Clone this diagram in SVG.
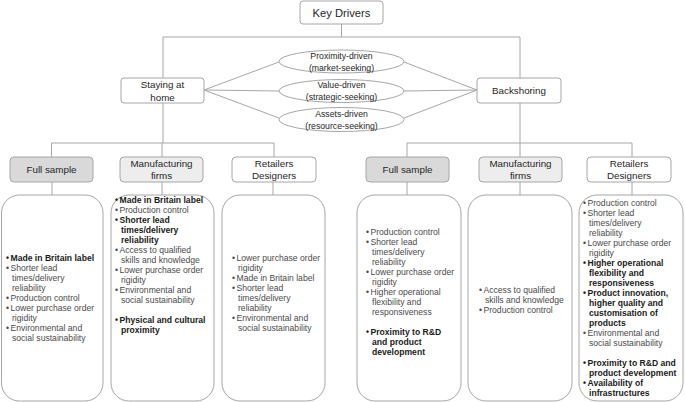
<svg xmlns="http://www.w3.org/2000/svg" width="685" height="402" viewBox="0 0 685 402">
<style>
.bx{fill:#fff;stroke:#a6a6a6;stroke-width:1}
.g1{fill:#d9d9d9}
.g2{fill:#ededed}
.ln{fill:none;stroke:#a6a6a6;stroke-width:1}
text{font-family:"Liberation Sans",Arial,sans-serif}
.h{font-size:9.8px;fill:#262626;text-anchor:middle}
.k{font-size:11.2px;fill:#262626;text-anchor:middle}
.e{font-size:8.7px;fill:#262626;text-anchor:middle}
.t{font-size:8.6px;fill:#4a4a4a}
.b{font-size:8.6px;fill:#1a1a1a;font-weight:bold}
</style>
<rect width="685" height="402" fill="#fff"/>
<g id="connectors">
<path class="ln" d="M341.5,24V37M163,37H520M163,37V78M520,37V78"/>
<path class="ln" d="M204,90L279,62M204,90L279,91M204,90L279,118M477,90L404,62M477,90L404,91M477,90L404,118"/>
<path class="ln" d="M163,103V143M51.5,143H274M51.5,143V157M162,143V157M274,143V157"/>
<path class="ln" d="M520,103V143M407,143H632M407,143V157M520,143V157M632,143V157"/>
<path class="ln" d="M52,182V195M162,182V195M273,182V195M407,182V195M520,182V195M632,182V195"/>
</g>
<g id="key-drivers"><rect class="bx" x="300" y="1" width="83" height="23" rx="3"/><text class="k" x="341.5" y="16.5">Key Drivers</text></g>
<g id="staying"><rect class="bx" x="121" y="78" width="83" height="25" rx="3"/><text class="h" x="162.5" y="88">Staying at</text><text class="h" x="162.5" y="100.5">home</text></g>
<g id="backshoring"><rect class="bx" x="477" y="78" width="84" height="25" rx="3"/><text class="h" x="519" y="94">Backshoring</text></g>
<g id="proximity"><ellipse class="bx" cx="341.5" cy="61.5" rx="62.5" ry="11.5"/><text class="e" x="341.5" y="59">Proximity-driven</text><text class="e" x="341.5" y="71">(market-seeking)</text></g>
<g id="value"><ellipse class="bx" cx="341.5" cy="91" rx="62.5" ry="11.5"/><text class="e" x="341.5" y="88.3">Value-driven</text><text class="e" x="341.5" y="100.3">(strategic-seeking)</text></g>
<g id="assets"><ellipse class="bx" cx="341.5" cy="119.5" rx="62.5" ry="12"/><text class="e" x="341.5" y="117.3">Assets-driven</text><text class="e" x="341.5" y="129.3">(resource-seeking)</text></g>

<g id="sh-full"><rect class="bx g1" x="10" y="157" width="83" height="25" rx="4"/><text class="h" x="51.5" y="172.5">Full sample</text></g>
<g id="sh-manu"><rect class="bx g2" x="120" y="157" width="83" height="25" rx="4"/><text class="h" x="161.5" y="167">Manufacturing</text><text class="h" x="161.5" y="178.5">firms</text></g>
<g id="sh-ret"><rect class="bx" x="232" y="157" width="84" height="25" rx="4"/><text class="h" x="274" y="167">Retailers</text><text class="h" x="274" y="178.5">Designers</text></g>
<g id="bs-full"><rect class="bx g1" x="366" y="157" width="83" height="25" rx="4"/><text class="h" x="407.5" y="172.5">Full sample</text></g>
<g id="bs-manu"><rect class="bx g2" x="479" y="157" width="83" height="25" rx="4"/><text class="h" x="520.5" y="167">Manufacturing</text><text class="h" x="520.5" y="178.5">firms</text></g>
<g id="bs-ret"><rect class="bx" x="587" y="157" width="84" height="25" rx="4"/><text class="h" x="629" y="167">Retailers</text><text class="h" x="629" y="178.5">Designers</text></g>

<g id="sh-full-list"><rect class="bx" x="1.5" y="195" width="101.5" height="206" rx="18"/>
<text class="b" x="6" y="261">•</text><text class="b" x="10.5" y="261">Made in Britain label</text>
<text class="t" x="6" y="271">•</text><text class="t" x="10.5" y="271">Shorter lead</text>
<text class="t" x="12" y="281">times/delivery</text>
<text class="t" x="12" y="291">reliability</text>
<text class="t" x="6" y="301">•</text><text class="t" x="10.5" y="301">Production control</text>
<text class="t" x="6" y="311">•</text><text class="t" x="10.5" y="311">Lower purchase order</text>
<text class="t" x="12" y="321">rigidity</text>
<text class="t" x="6" y="331">•</text><text class="t" x="10.5" y="331">Environmental and</text>
<text class="t" x="12" y="341">social sustainability</text>
</g>
<g id="sh-manu-list"><rect class="bx" x="111" y="195" width="103" height="206" rx="18"/>
<text class="b" x="115" y="203">•</text><text class="b" x="119.5" y="203">Made in Britain label</text>
<text class="t" x="115" y="213">•</text><text class="t" x="119.5" y="213">Production control</text>
<text class="b" x="115" y="223">•</text><text class="b" x="119.5" y="223">Shorter lead</text>
<text class="b" x="121" y="233">times/delivery</text>
<text class="b" x="121" y="243">reliability</text>
<text class="t" x="115" y="253">•</text><text class="t" x="119.5" y="253">Access to qualified</text>
<text class="t" x="121" y="263">skills and knowledge</text>
<text class="t" x="115" y="273">•</text><text class="t" x="119.5" y="273">Lower purchase order</text>
<text class="t" x="121" y="283">rigidity</text>
<text class="t" x="115" y="293">•</text><text class="t" x="119.5" y="293">Environmental and</text>
<text class="t" x="121" y="303">social sustainability</text>
<text class="b" x="115" y="323">•</text><text class="b" x="119.5" y="323">Physical and cultural</text>
<text class="b" x="121" y="333">proximity</text>
</g>
<g id="sh-ret-list"><rect class="bx" x="222" y="195" width="103" height="206" rx="18"/>
<text class="t" x="232" y="261">•</text><text class="t" x="236.5" y="261">Lower purchase order</text>
<text class="t" x="238" y="271">rigidity</text>
<text class="t" x="232" y="281">•</text><text class="t" x="236.5" y="281">Made in Britain label</text>
<text class="t" x="232" y="291">•</text><text class="t" x="236.5" y="291">Shorter lead</text>
<text class="t" x="238" y="301">times/delivery</text>
<text class="t" x="238" y="311">reliability</text>
<text class="t" x="232" y="321">•</text><text class="t" x="236.5" y="321">Environmental and</text>
<text class="t" x="238" y="331">social sustainability</text>
</g>
<g id="bs-full-list"><rect class="bx" x="357" y="195" width="104" height="206" rx="18"/>
<text class="t" x="366" y="235">•</text><text class="t" x="370.5" y="235">Production control</text>
<text class="t" x="366" y="245">•</text><text class="t" x="370.5" y="245">Shorter lead</text>
<text class="t" x="372" y="255">times/delivery</text>
<text class="t" x="372" y="265">reliability</text>
<text class="t" x="366" y="275">•</text><text class="t" x="370.5" y="275">Lower purchase order</text>
<text class="t" x="372" y="285">rigidity</text>
<text class="t" x="366" y="295">•</text><text class="t" x="370.5" y="295">Higher operational</text>
<text class="t" x="372" y="305">flexibility and</text>
<text class="t" x="372" y="315">responsiveness</text>
<text class="b" x="366" y="335">•</text><text class="b" x="370.5" y="335">Proximity to R&amp;D</text>
<text class="b" x="372" y="345">and product</text>
<text class="b" x="372" y="355">development</text>
</g>
<g id="bs-manu-list"><rect class="bx" x="468" y="195" width="104" height="206" rx="18"/>
<text class="t" x="479" y="293">•</text><text class="t" x="483.5" y="293">Access to qualified</text>
<text class="t" x="485" y="303">skills and knowledge</text>
<text class="t" x="479" y="313">•</text><text class="t" x="483.5" y="313">Production control</text>
</g>
<g id="bs-ret-list"><rect class="bx" x="579" y="195" width="104" height="206" rx="18"/>
<text class="t" x="583" y="206">•</text><text class="t" x="587.5" y="206">Production control</text>
<text class="t" x="583" y="216">•</text><text class="t" x="587.5" y="216">Shorter lead</text>
<text class="t" x="589" y="226">times/delivery</text>
<text class="t" x="589" y="236">reliability</text>
<text class="t" x="583" y="246">•</text><text class="t" x="587.5" y="246">Lower purchase order</text>
<text class="t" x="589" y="256">rigidity</text>
<text class="b" x="583" y="266">•</text><text class="b" x="587.5" y="266">Higher operational</text>
<text class="b" x="589" y="276">flexibility and</text>
<text class="b" x="589" y="286">responsiveness</text>
<text class="b" x="583" y="296">•</text><text class="b" x="587.5" y="296">Product innovation,</text>
<text class="b" x="589" y="306">higher quality and</text>
<text class="b" x="589" y="316">customisation of</text>
<text class="b" x="589" y="326">products</text>
<text class="t" x="583" y="336">•</text><text class="t" x="587.5" y="336">Environmental and</text>
<text class="t" x="589" y="346">social sustainability</text>
<text class="b" x="583" y="366">•</text><text class="b" x="587.5" y="366">Proximity to R&amp;D and</text>
<text class="b" x="589" y="376">product development</text>
<text class="b" x="583" y="386">•</text><text class="b" x="587.5" y="386">Availability of</text>
<text class="b" x="589" y="396">infrastructures</text>
</g>
</svg>
